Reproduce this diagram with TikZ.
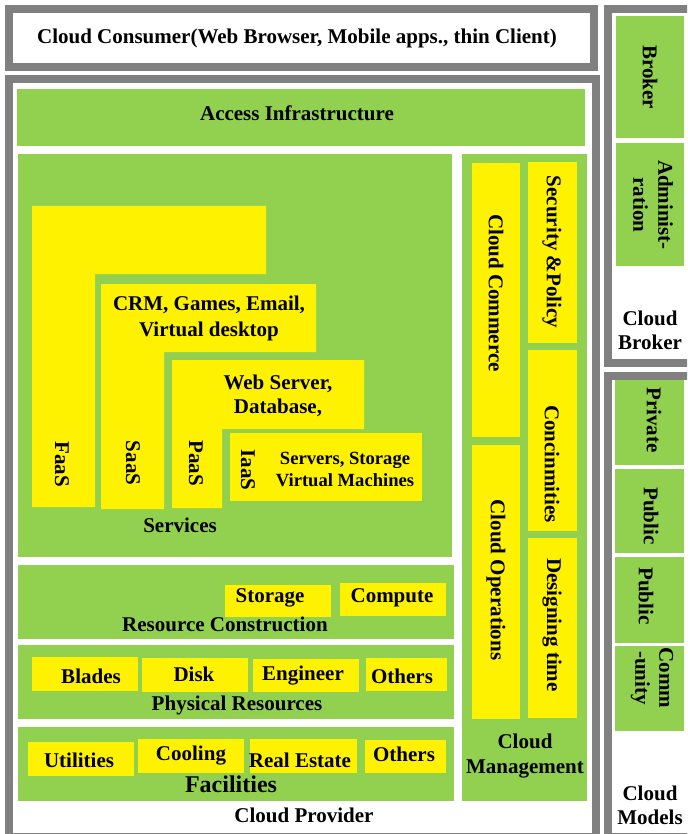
\documentclass[tikz,border=0pt]{standalone}
\usepackage{fontspec}
\setmainfont{Liberation Serif}
\definecolor{boxgreen}{HTML}{92D050}
\definecolor{framegray}{HTML}{808080}
\begin{document}
\begin{tikzpicture}[x=1pt,y=-1pt,
  frame/.style={draw=framegray,line width=8pt,fill=white},
  grn/.style={fill=boxgreen},
  ylw/.style={fill=yellow},
  lbl/.style={font=\bfseries\fontsize{21}{24}\selectfont,align=center,inner sep=0pt,text=black},
  vlbl/.style={lbl,rotate=-90},
]
\useasboundingbox (0,0) rectangle (687,834);
\clip (0,0) rectangle (687,834);
\fill[white] (0,0) rectangle (687,834);

% frames
\path[frame] (9,9) rectangle (594,67);
\path[frame] (9,79) rectangle (596,837);
\path[frame] (608,9) rectangle (692,363);
\path[frame] (608,376) rectangle (692,837);

\node[lbl] (consumer) at (297,38) {Cloud Consumer(Web Browser, Mobile apps., thin Client)};

% access
\fill[grn] (17,89) rectangle (585,146);
\node[lbl] (access) at (297,113) {Access Infrastructure};

% services
\fill[grn] (18,154) rectangle (452,557);
\fill[ylw] (32,206) -- (266,206) -- (266,274) -- (95,274) -- (95,507) -- (32,507) -- cycle;
\fill[ylw] (101,284) -- (316,284) -- (316,352) -- (164,352) -- (164,509) -- (101,509) -- cycle;
\fill[ylw] (172,360) -- (364,360) -- (364,429) -- (222,429) -- (222,508) -- (172,508) -- cycle;
\fill[ylw] (230,433) rectangle (422,501);
\node[vlbl] (faas) at (62,464) {FaaS};
\node[vlbl] (saas) at (133,463) {SaaS};
\node[vlbl] (paas) at (196,463) {PaaS};
\node[vlbl] (iaas) at (248,470) {IaaS};
\node[lbl,font=\bfseries\fontsize{21}{26}\selectfont] (crm) at (209,318) {CRM, Games, Email,\\Virtual desktop};
\node[lbl] (web) at (278,396) {Web Server,\\Database,};
\node[lbl,font=\bfseries\fontsize{18.6}{22}\selectfont] (servers) at (345,469) {Servers, Storage\\Virtual Machines};
\node[lbl] (services) at (180,525) {Services};

% resource construction
\fill[grn] (18,565) rectangle (454,639);
\fill[ylw] (225,585) rectangle (331,617);
\fill[ylw] (340,583) rectangle (446,616);
\node[lbl] (storage) at (270,598) {Storage};
\node[lbl] (compute) at (392,598) {Compute};
\node[lbl] (resc) at (225,624) {Resource Construction};

% physical resources
\fill[grn] (18,645) rectangle (454,719);
\fill[ylw] (32,657) rectangle (138,691);
\fill[ylw] (142,658) rectangle (248,692);
\fill[ylw] (253,659) rectangle (359,692);
\fill[ylw] (366,658) rectangle (447,691);
\node[lbl] (blades) at (91,676) {Blades};
\node[lbl] (disk) at (194,674) {Disk};
\node[lbl] (engineer) at (303,676) {Engineer};
\node[lbl] (others1) at (402,676) {Others};
\node[lbl] (physical) at (237,705) {Physical Resources};

% facilities
\fill[grn] (18,727) rectangle (454,801);
\fill[ylw] (28,742) rectangle (134,776);
\fill[ylw] (138,739) rectangle (244,773);
\fill[ylw] (250,739) rectangle (357,773);
\fill[ylw] (365,740) rectangle (446,773);
\node[lbl] (utilities) at (79,760) {Utilities};
\node[lbl] (cooling) at (191,756) {Cooling};
\node[lbl] (realestate) at (300,760) {Real Estate};
\node[lbl] (others2) at (404,754) {Others};
\node[lbl,font=\bfseries\fontsize{24}{28}\selectfont] (facilities) at (231,784) {Facilities};
\node[lbl] (provider) at (304,815) {Cloud Provider};

% cloud management
\fill[grn] (462,154) rectangle (587,801);
\fill[ylw] (472,163) rectangle (520,437);
\fill[ylw] (472,445) rectangle (520,719);
\fill[ylw] (528,162) rectangle (577,343);
\fill[ylw] (528,350) rectangle (577,531);
\fill[ylw] (528,538) rectangle (577,718);
\node[vlbl] (commerce) at (496,293) {Cloud Commerce};
\node[vlbl] (operations) at (496,580) {Cloud Operations};
\node[vlbl] (security) at (552,252) {Security \&Policy};
\node[vlbl] (concin) at (552,464) {Concinmities};
\node[vlbl] (designing) at (552,625) {Designing time};
\node[lbl,font=\bfseries\fontsize{21}{25}\selectfont] (mgmt) at (525,756) {Cloud\\Management};

% broker
\fill[grn] (616,16) rectangle (684,138);
\fill[grn] (616,143) rectangle (684,266);
\node[vlbl] (broker) at (650,77) {Broker};
\node[vlbl,font=\bfseries\fontsize{21}{25}\selectfont] (admin) at (653,205) {Administ-\\ration};
\node[lbl] (cbroker) at (650,330) {Cloud\\Broker};

% models
\fill[grn] (615,380) rectangle (684,465);
\fill[grn] (615,469) rectangle (684,553);
\fill[grn] (615,557) rectangle (684,643);
\fill[grn] (615,646) rectangle (684,731);
\node[vlbl] (private) at (654,420) {Private};
\node[vlbl] (public1) at (651,516) {Public};
\node[vlbl] (public2) at (646,596) {Public};
\node[vlbl] (community) at (652,678) {Comm\\-unity};
\node[lbl] (cmodels) at (650,805) {Cloud\\Models};
\end{tikzpicture}
\end{document}
